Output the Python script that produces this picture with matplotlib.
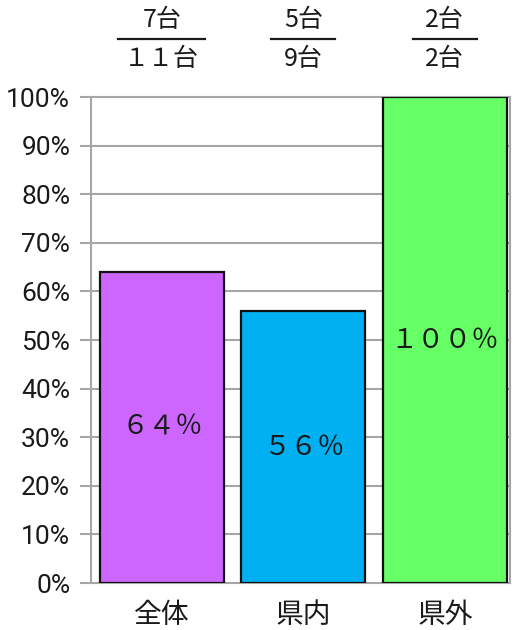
import matplotlib
matplotlib.use("Agg")
import matplotlib.pyplot as plt
from matplotlib.lines import Line2D
from matplotlib.transforms import blended_transform_factory

plt.rcParams["font.family"] = ["Noto Sans CJK JP", "DejaVu Sans"]

categories = ["全体", "県内", "県外"]
values = [64, 56, 100]
value_labels = ["６４％", "５６％", "１００％"]
numerators = ["7台", "5台", "2台"]
denominators = ["１１台", "9台", "2台"]
colors = ["#CC66FF", "#00B0F0", "#66FF66"]
yticks = list(range(0, 101, 10))
ytick_labels = [f"{t}%" for t in yticks]

GRID = "#A6A6A6"
TEXT = "#1A1A1A"


def main():
    fig = plt.figure(figsize=(5.27, 6.30), dpi=100)
    ax = fig.add_axes([0.1727, 0.0746, 0.795, 0.7714])

    x = list(range(len(categories)))
    ax.bar(x, values, width=0.875, color=colors, edgecolor="#111111",
           linewidth=1.6, zorder=3)

    ax.set_xlim(-0.5, 2.46)
    ax.set_ylim(0, 100)
    ax.set_yticks(yticks)
    ax.set_yticklabels(ytick_labels, family=["Roboto", "DejaVu Sans"],
                       fontsize=19, color=TEXT)
    ax.yaxis.grid(True, color=GRID, linewidth=1.5, zorder=0)
    ax.tick_params(axis="y", length=8, width=1.5, color=GRID, pad=7)
    ax.set_xticks(x)
    ax.set_xticklabels(categories, fontsize=20, color=TEXT)
    ax.tick_params(axis="x", length=0, pad=12)

    for side in ["left", "right", "bottom", "top"]:
        ax.spines[side].set_color(GRID)
        ax.spines[side].set_linewidth(1.5)

    for xi, v, lab in zip(x, values, value_labels):
        ax.text(xi, v / 2, lab, ha="center", va="center", fontsize=19.5,
                color=TEXT, zorder=4)

    trans = blended_transform_factory(ax.transData, fig.transFigure)
    dens = []
    for xi, num, den in zip(x, numerators, denominators):
        ax.text(xi, 1 - 20 / 630, num, transform=trans, ha="center",
                va="center", fontsize=18, color=TEXT)
        t = ax.text(xi, 1 - 59 / 630, den, transform=trans, ha="center",
                    va="center", fontsize=18, color=TEXT)
        dens.append(t)

    fig.canvas.draw()
    renderer = fig.canvas.get_renderer()
    for t in dens:
        bb = t.get_window_extent(renderer)
        w = max(bb.width + 12, 64)
        cx = (bb.x0 + bb.x1) / 2
        y = 630 - 39
        fig.add_artist(Line2D([(cx - w / 2) / 527, (cx + w / 2) / 527],
                              [y / 630, y / 630], transform=fig.transFigure,
                              color=TEXT, linewidth=1.6))

    fig.savefig("out.png", dpi=100)
    plt.close(fig)


if __name__ == "__main__":
    main()
